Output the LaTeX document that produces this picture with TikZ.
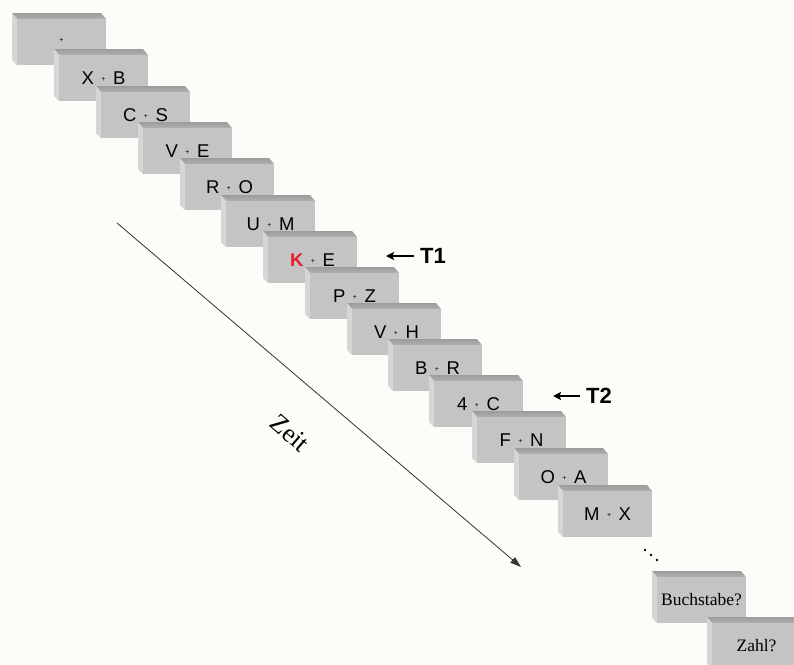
\documentclass[tikz,border=0pt]{standalone}
\usepackage{fontspec}
\setmainfont{Liberation Serif}
\setsansfont{Liberation Sans}
\usetikzlibrary{arrows.meta}
\definecolor{bgc}{RGB}{253,252,248}
\definecolor{facec}{RGB}{196,196,196}
\definecolor{topc}{RGB}{156,156,156}
\definecolor{topc2}{RGB}{176,176,176}
\definecolor{sidec}{RGB}{214,214,214}
\definecolor{kred}{RGB}{230,30,40}
\newcommand\fixplus{\raisebox{3pt}{\fontsize{7}{7}\selectfont +}}
\newcommand\pairtxt[2]{#1\hspace{7.5pt}\fixplus\hspace{7.5pt}#2}
\newcommand\drawcard[5]{%
  \shade[top color=topc,bottom color=topc2] (#2,#3) -- ++(89,0) -- ++(5,6) -- ++(-89,0) -- cycle;
  \fill[sidec] (#2,#3) -- ++(5,6) -- ++(0,46) -- ++(-5,-5) -- cycle;
  \node[#5] (#1) at ({#2+49.5},{#3+29}) {#4};
}
\tikzset{
  card/.style={rectangle, fill=facec, minimum width=89pt, minimum height=46pt, inner sep=0pt,
    font=\sffamily\fontsize{18.5}{18.5}\selectfont},
  qcard/.style={card, font=\rmfamily\fontsize{17.5}{17.5}\selectfont},
  tlabel/.style={font=\sffamily\bfseries\fontsize{22}{22}\selectfont, inner sep=0pt, anchor=west},
  tarrow/.style={line width=2pt, -{Stealth[length=8pt,width=8pt,inset=1.5pt]}},
  timearrow/.style={line width=0.8pt, draw=black!80, -{Triangle[length=11pt,width=7pt]}},
  edot/.style={circle, fill=black, inner sep=0pt, minimum size=2.8pt}
}
\begin{document}
\begin{tikzpicture}[x=1pt,y=-1pt]
\useasboundingbox (0,0) rectangle (794,664);
\clip (0,0) rectangle (794,664);
\fill[bgc] (0,0) rectangle (794,664);
\drawcard{c1}{12}{13}{\fixplus}{card}
\drawcard{c2}{54}{49}{\pairtxt{X}{B}}{card}
\drawcard{c3}{96}{86}{\pairtxt{C}{S}}{card}
\drawcard{c4}{138}{122}{\pairtxt{V}{E}}{card}
\drawcard{c5}{180}{158}{\pairtxt{R}{O}}{card}
\drawcard{c6}{221}{195}{\pairtxt{U}{M}}{card}
\drawcard{c7}{263}{231}{\pairtxt{\textcolor{kred}{\textbf{K}}}{E}}{card}
\drawcard{c8}{305}{267}{\pairtxt{P}{Z}}{card}
\drawcard{c9}{347}{303}{\pairtxt{V}{H}}{card}
\drawcard{c10}{388}{339}{\pairtxt{B}{R}}{card}
\drawcard{c11}{429}{375}{\pairtxt{4}{C}}{card}
\drawcard{c12}{472}{411}{\pairtxt{F}{N}}{card}
\drawcard{c13}{514}{448}{\pairtxt{O}{A}}{card}
\drawcard{c14}{558}{485}{\pairtxt{M}{X}}{card}
\drawcard{c15}{652}{571}{Buchstabe?}{qcard}
\drawcard{c16}{707}{617}{Zahl?}{qcard}
% T labels
\node[tlabel] (T1) at (420,256) {T1};
\coordinate (t1tip) at (386,256);
\draw[tarrow] ([xshift=-6pt]T1.west) -- (t1tip);
\node[tlabel] (T2) at (586,396) {T2};
\coordinate (t2tip) at (553,396);
\draw[tarrow] ([xshift=-6pt]T2.west) -- (t2tip);
% time arrow
\coordinate (zs) at (117,223);
\coordinate (ze) at (521,567);
\draw[timearrow] (zs) -- (ze);
\node[font=\rmfamily\fontsize{26}{26}\selectfont, rotate=-41, inner sep=0pt] (zeit) at (290,433) {Zeit};
% ellipsis
\node[edot] (d1) at (645,550) {};
\node[edot] (d2) at (651,555) {};
\node[edot] (d3) at (657,560) {};
\end{tikzpicture}
\end{document}
